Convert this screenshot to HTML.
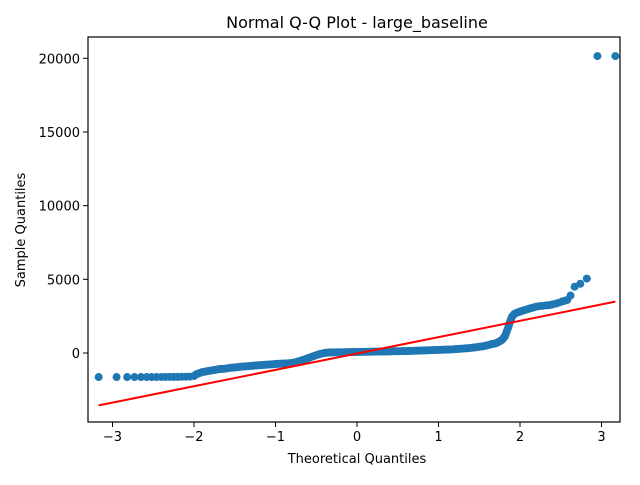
<!DOCTYPE html>
<html><head><meta charset="utf-8"><style>
body{margin:0;background:#fff;}
svg text{font-family:"DejaVu Sans","Liberation Sans",sans-serif;fill:#000;}
</style></head><body>
<svg width="640" height="480" xmlns="http://www.w3.org/2000/svg">
<rect width="640" height="480" fill="#fff"/>
<text x="357" y="28" font-size="16" text-anchor="middle">Normal Q-Q Plot - large_baseline</text>
<g id="marks"></g>
<g id="axes"></g>
<text x="357" y="463" font-size="13" text-anchor="middle">Theoretical Quantiles</text>
<text x="0" y="0" font-size="13" text-anchor="middle" transform="translate(25,230) rotate(-90)">Sample Quantiles</text>
</svg>
<script>
const theoretical = [-3.17,-2.95,-2.82,-2.73,-2.65,-2.58,-2.52,-2.46,-2.40,-2.35,-2.30,-2.25,-2.20,-2.15,-2.10,-2.05,
-2.000,-1.975,-1.950,-1.925,-1.900,-1.875,-1.850,-1.825,-1.800,-1.775,-1.750,-1.725,-1.700,-1.675,-1.650,-1.625,-1.600,-1.575,-1.550,-1.525,-1.500,-1.475,-1.450,-1.425,-1.400,-1.375,-1.350,-1.325,-1.300,-1.275,-1.250,-1.225,-1.200,-1.175,-1.150,-1.125,-1.100,-1.075,-1.050,-1.025,-1.000,-0.975,-0.950,-0.925,-0.900,-0.875,-0.850,-0.825,-0.800,-0.775,-0.750,-0.725,-0.700,-0.675,-0.650,-0.625,-0.600,-0.575,-0.550,-0.525,-0.500,-0.475,-0.450,-0.425,-0.400,-0.375,-0.350,
-0.325,-0.300,-0.275,-0.250,-0.225,-0.200,-0.175,-0.150,-0.125,-0.100,-0.075,-0.050,-0.025,0.000,0.025,0.050,0.075,0.100,0.125,0.150,0.175,0.200,0.225,0.250,0.275,0.300,0.325,0.350,0.375,0.400,0.425,0.450,0.475,0.500,0.525,0.550,0.575,0.600,0.625,0.650,0.675,0.700,0.725,0.750,0.775,0.800,0.825,0.850,0.875,0.900,0.925,0.950,0.975,1.000,1.025,1.050,1.075,1.100,1.125,1.150,1.175,1.200,1.225,1.250,1.275,1.300,1.325,1.350,1.375,1.400,1.425,1.450,1.475,1.500,1.525,1.550,1.575,1.600,1.625,1.650,1.675,1.700,1.720,1.740,1.760,1.780,1.795,1.810,1.820,1.830,1.840,1.850,1.860,1.870,1.880,1.890,1.900,1.915,1.930,1.950,1.970,1.995,2.02,2.05,2.08,2.11,2.14,2.17,2.20,2.24,2.28,2.32,2.36,2.40,2.44,2.48,2.52,2.55,2.58,2.62,2.67,2.74,2.82,2.95,3.17];
const sample = [-1630,-1630,-1630,-1630,-1630,-1630,-1630,-1630,-1625,-1625,-1620,-1620,-1620,-1615,-1610,-1600,
-1560,-1450,-1400,-1350,-1300,-1275,-1250,-1225,-1200,-1175,-1150,-1125,-1100,-1090,-1080,-1065,-1050,-1025,-1000,-990,-980,-965,-950,-935,-920,-910,-900,-890,-880,-865,-850,-840,-830,-820,-810,-800,-790,-780,-770,-760,-750,-740,-730,-725,-720,-710,-700,-690,-680,-650,-620,-580,-540,-495,-450,-400,-350,-300,-250,-200,-150,-105,-60,-30,0,15,30,
35,40,42,45,48,50,52,55,57,60,62,65,68,70,72,75,78,80,82,85,88,90,92,95,98,100,102,105,108,110,112,115,118,120,122,125,128,130,135,140,145,150,155,160,165,170,175,180,185,190,195,200,205,210,215,220,225,230,235,240,250,260,270,280,290,300,310,320,335,350,365,380,400,420,440,460,490,520,560,600,625,650,700,760,820,900,1000,1100,1200,1350,1500,1650,1800,2000,2150,2300,2450,2550,2650,2700,2750,2800,2850,2900,2950,3000,3050,3100,3150,3180,3200,3230,3250,3300,3350,3420,3500,3550,3600,3900,4500,4700,5050,20150,20150];
const lineIntercept = [-35];
const lineSlope = [1110];
const xTicks = [-3,-2,-1,0,1,2,3];
const yTicks = [0,5000,10000,15000,20000];

const NS='http://www.w3.org/2000/svg';
const L=88,R=620,T=37,B=422;
const xs=v=>357+v*81.5;
const ys=v=>353-v*0.014735;
const marks=document.getElementById('marks'), axes=document.getElementById('axes');
function mk(tag,attrs,parent){const e=document.createElementNS(NS,tag);for(const k in attrs)e.setAttribute(k,attrs[k]);parent.appendChild(e);return e;}
theoretical.forEach((t,i)=>{
  if(sample[i]===undefined) return;
  const c=mk('circle',{cx:xs(t),cy:ys(sample[i]),r:4,fill:'#1f77b4'},marks);
  
  
});
const x0=theoretical[0],x1=theoretical[theoretical.length-1];
const ln=mk('line',{x1:xs(x0),y1:ys(lineIntercept[0]+lineSlope[0]*x0),x2:xs(x1),y2:ys(lineIntercept[0]+lineSlope[0]*x1),stroke:'#ff0000','stroke-width':2},marks);


const fr=mk('rect',{x:L,y:T,width:R-L,height:B-T,fill:'none',stroke:'#000','stroke-width':1.2},axes);


xTicks.forEach(v=>{
  const x=xs(v);
  mk('line',{x1:x,y1:B,x2:x,y2:B+5,stroke:'#000'},axes);
  const t=mk('text',{x:x,y:B+19,'font-size':13,'text-anchor':'middle'},axes);
  t.textContent=(v<0?'\u2212':'')+Math.abs(v);
  
  
});
yTicks.forEach(v=>{
  const y=ys(v);
  mk('line',{x1:L-5,y1:y,x2:L,y2:y,stroke:'#000'},axes);
  const t=mk('text',{x:L-8,y:y+5,'font-size':13,'text-anchor':'end'},axes);
  t.textContent=v;
  
  
});
</script>
</body></html>
